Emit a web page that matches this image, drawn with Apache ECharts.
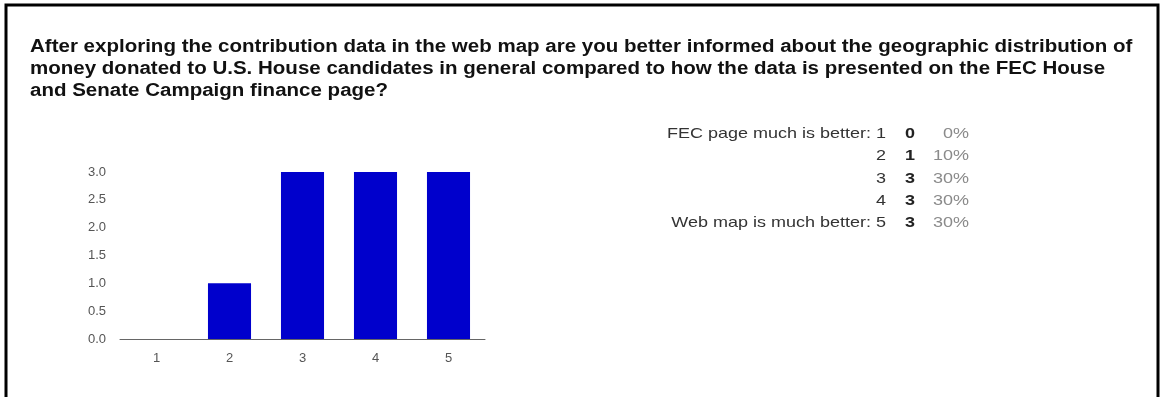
<!DOCTYPE html>
<html>
<head>
<meta charset="utf-8">
<script src="https://cdn.jsdelivr.net/npm/echarts@6/dist/echarts.min.js"></script>
<style>
  html, body { margin: 0; padding: 0; background: #fff; }
  #chart { width: 1160px; height: 397px; }
</style>
</head>
<body>
<div id="chart"></div>
<script>
// Survey question and response counts
const questionLines = [
  'After exploring the contribution data in the web map are you better informed about the geographic distribution of',
  'money donated to U.S. House candidates in general compared to how the data is presented on the FEC House',
  'and Senate Campaign finance page?'
];
const categories = ['1', '2', '3', '4', '5'];
const counts = [0, 1, 3, 3, 3];
const rowLabels = ['FEC page much is better: 1', '2', '3', '4', 'Web map is much better: 5'];
const yTicks = [0, 0.5, 1, 1.5, 2, 2.5, 3];

const total = counts.reduce((a, b) => a + b, 0);
const percents = counts.map(c => Math.round(c / total * 100) + '%');

const FONT = '"Liberation Sans", Arial, sans-serif';
const WIDE = 1.2; // horizontal stretch of the summary-table text

// Summary table on the right: label, bold count, gray percentage
const tableEls = [];
rowLabels.forEach((lab, i) => {
  const y = 134 + i * 22.2;
  tableEls.push({
    type: 'text', x: 886, y: y, scaleX: WIDE,
    style: { text: lab, fill: '#333', font: '15px ' + FONT, textAlign: 'right', textVerticalAlign: 'middle' }
  });
  tableEls.push({
    type: 'text', x: 910, y: y, scaleX: WIDE,
    style: { text: String(counts[i]), fill: '#222', font: 'bold 15px ' + FONT, textAlign: 'center', textVerticalAlign: 'middle' }
  });
  tableEls.push({
    type: 'text', x: 969, y: y, scaleX: WIDE,
    style: { text: percents[i], fill: '#8a8a8a', font: '15px ' + FONT, textAlign: 'right', textVerticalAlign: 'middle' }
  });
});

const chart = echarts.init(document.getElementById('chart'));
chart.setOption({
  animation: false,
  backgroundColor: '#fff',
  graphic: [
    {
      type: 'rect', shape: { x: 6, y: 5, width: 1152, height: 500 },
      style: { fill: 'none', stroke: '#000', lineWidth: 3 }
    },
    {
      type: 'text', x: 30, y: 36, scaleX: 1.14,
      style: {
        text: questionLines.join('\n'), fill: '#111',
        font: 'bold 18px ' + FONT, lineHeight: 22
      }
    },
    ...tableEls
  ],
  grid: { left: 120, right: 675, top: 172, bottom: 58 },
  xAxis: {
    type: 'category',
    data: categories,
    axisLine: { lineStyle: { color: '#666', width: 1 } },
    axisTick: { show: false },
    axisLabel: { color: '#555', fontSize: 13, fontFamily: FONT, margin: 13 }
  },
  yAxis: {
    type: 'value',
    min: 0, max: 3, interval: 0.5,
    axisLine: { show: false },
    axisTick: { show: false },
    splitLine: { show: false },
    axisLabel: {
      color: '#555', fontSize: 13, fontFamily: FONT, margin: 14,
      formatter: v => yTicks.includes(v) ? v.toFixed(1) : ''
    }
  },
  series: [{
    type: 'bar',
    data: counts,
    barWidth: '59%',
    itemStyle: { color: '#0000cc' }
  }]
});
</script>
</body>
</html>
